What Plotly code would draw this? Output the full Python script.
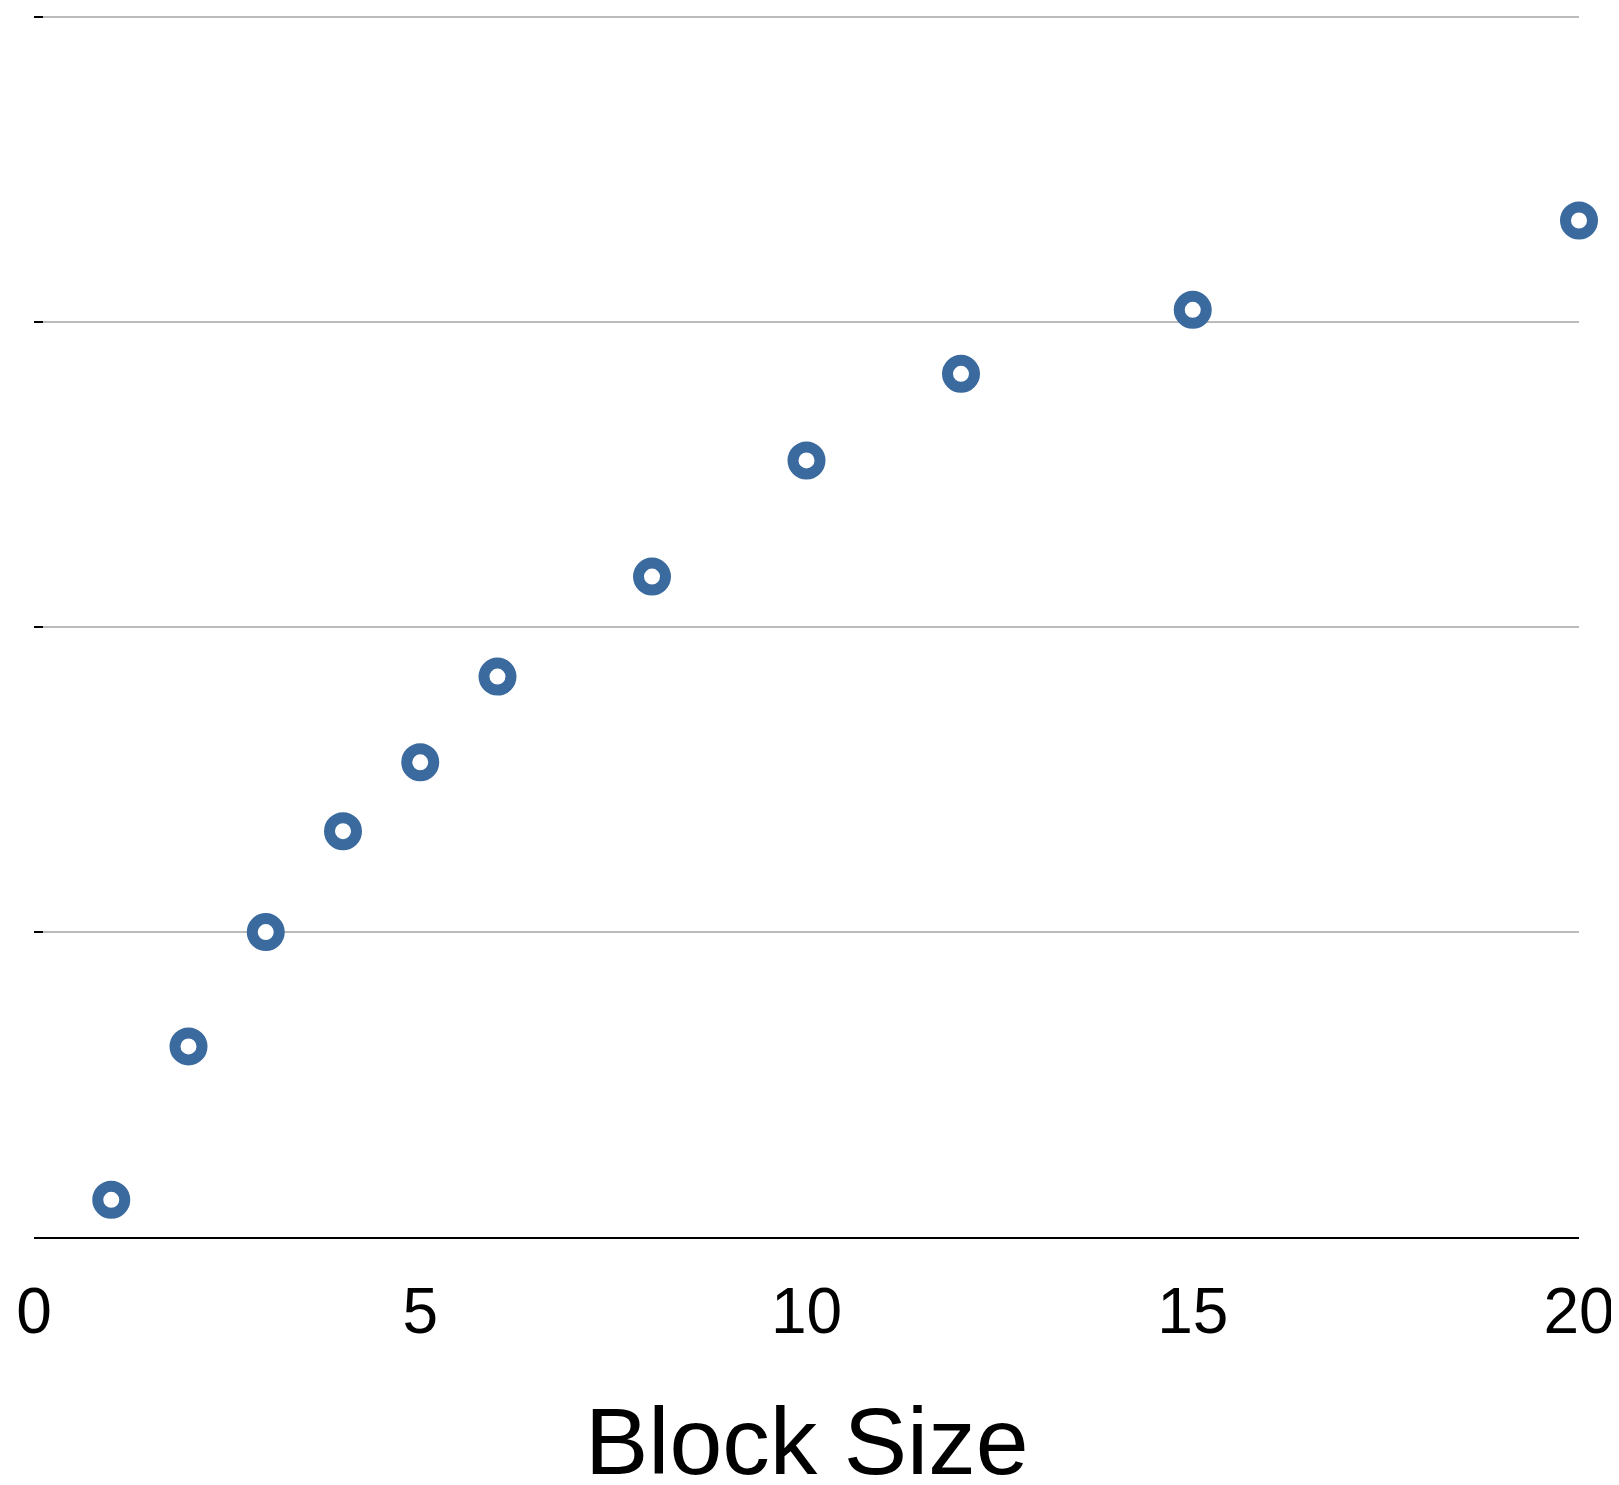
import plotly.graph_objects as go

block_size = [1, 2, 3, 4, 5, 6, 8, 10, 12, 15, 20]
values = [0.122, 0.625, 1.0, 1.331, 1.557, 1.838, 2.166, 2.547, 2.831, 3.041, 3.334]
x_ticks = [0, 5, 10, 15, 20]
y_ticks = [0, 1, 2, 3, 4]
x_title = "Block Size"

fig = go.Figure()
fig.add_trace(go.Scatter(
    x=block_size, y=values, mode="markers", cliponaxis=False,
    marker=dict(size=27, color="white", line=dict(color="#3b6a9e", width=11)),
    showlegend=False,
))

fig.update_layout(
    width=1611, height=1477,
    margin=dict(l=26, r=40, t=7, b=248),
    paper_bgcolor="white", plot_bgcolor="white",
    font=dict(family="Liberation Sans, Arial, Helvetica, sans-serif", color="black"),
    xaxis=dict(
        range=[0, 20], tickvals=x_ticks, ticktext=[str(v) for v in x_ticks],
        showgrid=False, zeroline=False, showline=True, linecolor="black", linewidth=2,
        ticks="", tickfont=dict(size=64), ticklabelstandoff=17, automargin=False,
    ),
    yaxis=dict(
        range=[0, 4.008], tickvals=y_ticks, showticklabels=False, automargin=False,
        showgrid=True, gridcolor="#bbbbbb", gridwidth=2, zeroline=False,
        ticks="inside", ticklen=9, tickwidth=2, tickcolor="black", showline=False,
    ),
    annotations=[dict(
        text=x_title, xref="paper", yref="paper", x=0.5, y=-0.1669,
        xanchor="center", yanchor="middle", showarrow=False,
        font=dict(size=95, color="black"),
    )],
)

fig.write_html("out.html")
